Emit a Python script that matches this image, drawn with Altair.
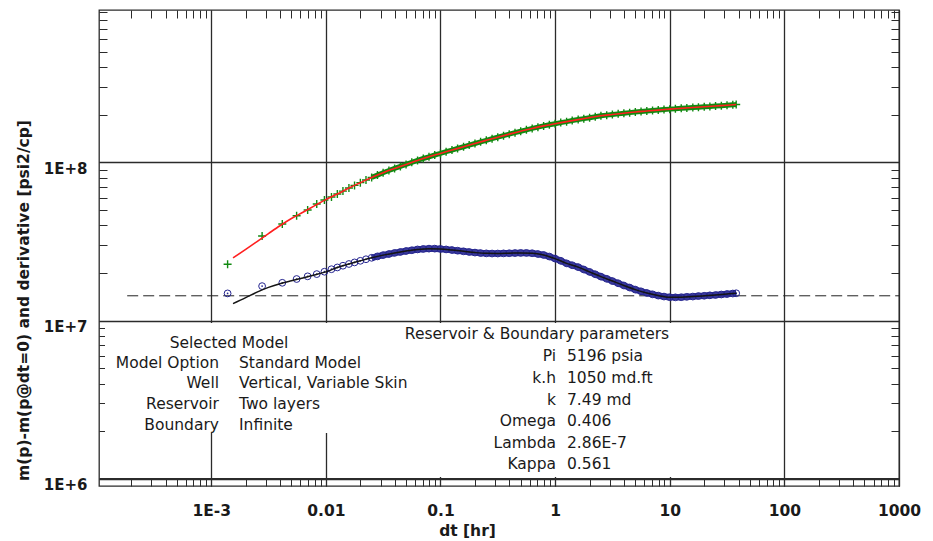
import altair as alt
import pandas as pd

# ---------------- data ----------------
dt_data = [0.00139, 0.00278, 0.00417, 0.00556, 0.00694, 0.00833, 0.00972,
           0.0112, 0.0126, 0.0141, 0.0159, 0.0178, 0.02, 0.0224, 0.0251, 0.0282, 0.0316,
           0.0355, 0.0398, 0.0447, 0.0501, 0.0562, 0.0631, 0.0708, 0.0794, 0.0891,
           0.1, 0.112, 0.126, 0.141, 0.159, 0.178, 0.2, 0.224, 0.251, 0.282, 0.316,
           0.355, 0.398, 0.447, 0.501, 0.562, 0.631, 0.708, 0.794, 0.891,
           1.0, 1.12, 1.26, 1.41, 1.59, 1.78, 2.0, 2.24, 2.51, 2.82, 3.16,
           3.55, 3.98, 4.47, 5.01, 5.62, 6.31, 7.08, 7.94, 8.91,
           10, 11.2, 12.6, 14.1, 15.9, 17.8, 20, 22.4, 25.1, 28.2, 31.6, 35.5, 38.0]

dp_data = [2.27e7, 3.43e7, 4.08e7, 4.60e7, 5.00e7, 5.46e7, 5.79e7,
           6.05e7, 6.31e7, 6.59e7, 6.89e7, 7.16e7, 7.45e7, 7.74e7, 8.04e7, 8.32e7, 8.61e7,
           8.89e7, 9.16e7, 9.44e7, 9.72e7, 1.002e8, 1.03e8, 1.059e8, 1.086e8, 1.114e8,
           1.14e8, 1.169e8, 1.197e8, 1.227e8, 1.256e8, 1.288e8, 1.318e8, 1.349e8, 1.38e8, 1.413e8, 1.445e8,
           1.476e8, 1.51e8, 1.542e8, 1.574e8, 1.607e8, 1.641e8, 1.671e8, 1.702e8, 1.73e8,
           1.758e8, 1.786e8, 1.811e8, 1.841e8, 1.866e8, 1.892e8, 1.919e8, 1.945e8, 1.972e8, 1.991e8, 2.009e8,
           2.028e8, 2.046e8, 2.065e8, 2.084e8, 2.099e8, 2.113e8, 2.128e8, 2.143e8, 2.158e8,
           2.173e8, 2.183e8, 2.198e8, 2.208e8, 2.223e8, 2.234e8, 2.249e8, 2.259e8, 2.275e8, 2.286e8, 2.301e8, 2.312e8, 2.323e8]

deriv_data = [1.486e7, 1.652e7, 1.734e7, 1.832e7, 1.905e7, 1.968e7, 2.037e7,
              2.113e7, 2.168e7, 2.223e7, 2.28e7, 2.333e7, 2.388e7, 2.443e7, 2.495e7, 2.547e7, 2.594e7,
              2.636e7, 2.679e7, 2.716e7, 2.754e7, 2.786e7, 2.818e7, 2.838e7, 2.851e7, 2.851e7,
              2.838e7, 2.818e7, 2.793e7, 2.767e7, 2.742e7, 2.716e7, 2.692e7, 2.673e7, 2.661e7, 2.655e7, 2.655e7,
              2.661e7, 2.667e7, 2.673e7, 2.679e7, 2.679e7, 2.667e7, 2.636e7, 2.6e7, 2.541e7,
              2.466e7, 2.388e7, 2.301e7, 2.239e7, 2.178e7, 2.104e7, 2.032e7, 1.963e7, 1.897e7, 1.837e7, 1.778e7,
              1.722e7, 1.667e7, 1.618e7, 1.57e7, 1.531e7, 1.496e7, 1.466e7, 1.439e7, 1.419e7,
              1.406e7, 1.403e7, 1.406e7, 1.413e7, 1.419e7, 1.429e7, 1.435e7, 1.445e7, 1.452e7, 1.462e7, 1.472e7, 1.483e7, 1.489e7]

dt_model = [0.00155, 0.002, 0.00251, 0.00316, 0.00398, 0.00501, 0.00631, 0.00794, 0.01,
            0.0126, 0.0159, 0.02, 0.0251, 0.0316, 0.0398, 0.0501, 0.0631, 0.0794,
            0.1, 0.126, 0.159, 0.2, 0.251, 0.316, 0.398, 0.501, 0.631, 0.794,
            1.0, 1.26, 1.59, 2.0, 2.51, 3.16, 3.98, 5.01, 6.31, 7.94,
            10, 12.6, 15.9, 20, 25.1, 31.6, 38.0]

dp_model = [2.49e7, 2.82e7, 3.16e7, 3.55e7, 3.98e7, 4.42e7, 4.84e7, 5.31e7, 5.82e7,
            6.31e7, 6.89e7, 7.45e7, 8.04e7, 8.61e7, 9.16e7, 9.72e7, 1.03e8, 1.086e8,
            1.14e8, 1.197e8, 1.256e8, 1.318e8, 1.38e8, 1.445e8, 1.51e8, 1.574e8, 1.641e8, 1.702e8,
            1.758e8, 1.811e8, 1.866e8, 1.919e8, 1.972e8, 2.009e8, 2.046e8, 2.084e8, 2.113e8, 2.143e8,
            2.173e8, 2.198e8, 2.223e8, 2.249e8, 2.275e8, 2.301e8, 2.323e8]

deriv_model = [1.28e7, 1.396e7, 1.514e7, 1.622e7, 1.71e7, 1.786e7, 1.862e7, 1.941e7, 2.032e7,
               2.168e7, 2.28e7, 2.388e7, 2.495e7, 2.594e7, 2.679e7, 2.754e7, 2.818e7, 2.851e7,
               2.838e7, 2.793e7, 2.742e7, 2.692e7, 2.661e7, 2.655e7, 2.667e7, 2.679e7, 2.667e7, 2.6e7,
               2.466e7, 2.301e7, 2.178e7, 2.032e7, 1.897e7, 1.778e7, 1.667e7, 1.57e7, 1.496e7, 1.439e7,
               1.406e7, 1.406e7, 1.419e7, 1.435e7, 1.452e7, 1.472e7, 1.489e7]

flow_level = 1.435e7        # dashed horizontal line
flow_start, flow_end = 1.85e-4, 1000
dense_from = 0.025          # from here on the markers merge into a solid band

model_rows = ["Model Option", "Well", "Reservoir", "Boundary"]
model_vals = ["Standard Model", "Vertical, Variable Skin", "Two layers", "Infinite"]
param_rows = ["Pi", "k.h", "k", "Omega", "Lambda", "Kappa"]
param_vals = ["5196 psia", "1050 md.ft", "7.49 md", "0.406", "2.86E-7", "0.561"]

# ---------------- styling ----------------
X_DOMAIN = [1.05e-4, 1000]
Y_DOMAIN = [9.0e5, 9.2e8]
W, H = 800, 476
FONT = "DejaVu Sans"
INK = "#2b2b2b"
TXT = "#1a1a1a"
GREEN = "#118a11"
BLUE = "#24248f"

x_ticks = [m * 10 ** e for e in range(-4, 3) for m in range(1, 10) if m * 10 ** e >= X_DOMAIN[0]] + [1000]
y_ticks = [m * 10 ** e for e in range(6, 9) for m in range(1, 10) if m * 10 ** e <= Y_DOMAIN[1]]

DEC = "abs(log(datum.value)/LN10 - round(log(datum.value)/LN10)) < 1e-6"
grid_op = {"condition": {"test": DEC, "value": 1}, "value": 0}

xs = alt.Scale(type="log", domain=X_DOMAIN, nice=False)
ys = alt.Scale(type="log", domain=Y_DOMAIN, nice=False)

x_axis_main = alt.Axis(
    orient="bottom", values=x_ticks, offset=-8, tickSize=8, tickColor=INK, tickWidth=1,
    domain=True, domainColor=INK, domainWidth=1.2,
    grid=True, gridColor=INK, gridWidth=1.3, gridOpacity=grid_op,
    labelExpr=f"({DEC}) ? (datum.value < 0.005 ? '1E-3' : format(datum.value, '~g')) : ''",
    labelFont=FONT, labelFontSize=15.5, labelFontWeight="bold", labelColor=TXT,
    labelPadding=17, labelOverlap=False, labelFlush=False, labelBound=False,
    title="dt [hr]", titleFont=FONT, titleFontSize=15.5, titleFontWeight="bold", titleColor=TXT,
    titleX=368, titleY=52, titleBaseline="middle", titleAlign="center",
)
y_axis_main = alt.Axis(
    orient="left", values=y_ticks, offset=-8, tickSize=8, tickColor=INK, tickWidth=1,
    domain=False, grid=True, gridColor=INK, gridWidth=1.3, gridOpacity=grid_op,
    labelExpr=f"({DEC}) ? ('1E+' + round(log(datum.value)/LN10)) : ''",
    labelFont=FONT, labelFontSize=15, labelFontWeight="bold", labelColor=TXT,
    labelPadding=12, labelOffset=6, labelOverlap=False, labelFlush=False, labelBound=False,
    title="m(p)-m(p@dt=0) and derivative [psi2/cp]", titleFont=FONT, titleFontSize=15.5,
    titleFontWeight="bold", titleColor=TXT, titleAngle=270,
    titleX=-84, titleY=290, titleBaseline="middle", titleAlign="center",
)
x_axis_top = alt.Axis(orient="top", values=x_ticks, offset=-8, tickSize=8, tickColor=INK,
                      tickWidth=1, domain=False, grid=False, labels=False, title=None)
y_axis_right = alt.Axis(orient="right", values=y_ticks, offset=-8, tickSize=8, tickColor=INK,
                        tickWidth=1, domain=False, grid=False, labels=False, title=None)

data_df = pd.DataFrame({"dt": dt_data, "dp": dp_data, "der": deriv_data})
model_df = pd.DataFrame({"dt": dt_model, "dp": dp_model, "der": deriv_model})
flow_df = pd.DataFrame({"a": [flow_start], "b": [flow_end], "lvl": [flow_level]})

PLUS = "M-1,0L1,0M0,-1L0,1"
X = alt.X("dt:Q", scale=xs, axis=None)

frame_ticks = alt.Chart(data_df).mark_point(opacity=0).encode(
    x=alt.X("dt:Q", scale=xs, axis=x_axis_top),
    y=alt.Y("dp:Q", scale=ys, axis=y_axis_right),
)

pressure_band = alt.Chart(data_df).transform_filter(f"datum.dt >= {dense_from}").mark_line(
    color=GREEN, strokeWidth=5).encode(x=X, y=alt.Y("dp:Q", scale=ys, axis=None))

pressure_pts = alt.Chart(data_df).mark_point(
    shape=PLUS, size=64, filled=False, stroke=GREEN, strokeWidth=1.4, opacity=1
).encode(
    x=alt.X("dt:Q", scale=xs, axis=x_axis_main),
    y=alt.Y("dp:Q", scale=ys, axis=y_axis_main),
)

deriv_band = alt.Chart(data_df).transform_filter(f"datum.dt >= {dense_from}").mark_line(
    color=BLUE, strokeWidth=6.5, opacity=0.9).encode(x=X, y=alt.Y("der:Q", scale=ys, axis=None))

deriv_pts = alt.Chart(data_df).mark_point(
    shape="circle", size=46, filled=False, stroke=BLUE, strokeWidth=1, opacity=1
).encode(x=X, y=alt.Y("der:Q", scale=ys, axis=None))

deriv_dots = alt.Chart(data_df).mark_point(
    shape="circle", size=3, filled=True, color=BLUE, opacity=1
).encode(x=X, y=alt.Y("der:Q", scale=ys, axis=None))

red_line = alt.Chart(model_df).mark_line(color="#ff1f1f", strokeWidth=1.6, interpolate="monotone").encode(
    x=X, y=alt.Y("dp:Q", scale=ys, axis=None))

black_line = alt.Chart(model_df).mark_line(color="#151515", strokeWidth=1.5, interpolate="monotone").encode(
    x=X, y=alt.Y("der:Q", scale=ys, axis=None))

flow_rule = alt.Chart(flow_df).mark_rule(color="#222222", strokeWidth=1, strokeDash=[11, 5]).encode(
    x=alt.X("a:Q", scale=xs, axis=None), x2="b:Q", y=alt.Y("lvl:Q", scale=ys, axis=None))

# white panels behind the annotation tables
panel_left = alt.Chart().mark_rect(color="white").encode(
    x=alt.value(6), x2=alt.value(311), y=alt.value(313), y2=alt.value(423))
panel_right = alt.Chart().mark_rect(color="white").encode(
    x=alt.value(300), x2=alt.value(592), y=alt.value(313), y2=alt.value(467))


def txt(s, x, y, align="left"):
    return alt.Chart().mark_text(
        text=s, align=align, baseline="middle", font=FONT, fontSize=15.5, color=TXT
    ).encode(x=alt.value(x), y=alt.value(y))


texts = [txt("Selected Model", 130, 333, "center")]
row_y_left = [353, 373, 394, 415]
for lab, val, yy in zip(model_rows, model_vals, row_y_left):
    texts.append(txt(lab, 120, yy, "right"))
    texts.append(txt(val, 140, yy, "left"))

texts.append(txt("Reservoir & Boundary parameters", 438, 324, "center"))
row_y_right = [346, 368, 390, 411, 433, 454]
for lab, val, yy in zip(param_rows, param_vals, row_y_right):
    texts.append(txt(lab, 457, yy, "right"))
    texts.append(txt(val, 468, yy, "left"))

chart = alt.layer(
    frame_ticks, panel_left, panel_right, *texts,
    flow_rule, deriv_band, deriv_pts, deriv_dots, black_line,
    pressure_band, pressure_pts, red_line,
).resolve_axis(x="independent", y="independent").properties(
    width=W, height=H,
    autosize=alt.AutoSizeParams(type="none"),
    padding={"left": 99, "top": 10, "right": 34, "bottom": 55},
    background="white",
).configure_view(stroke=INK, strokeWidth=1.3)

chart.save("out.html", embed_options={"renderer": "svg", "actions": False})
